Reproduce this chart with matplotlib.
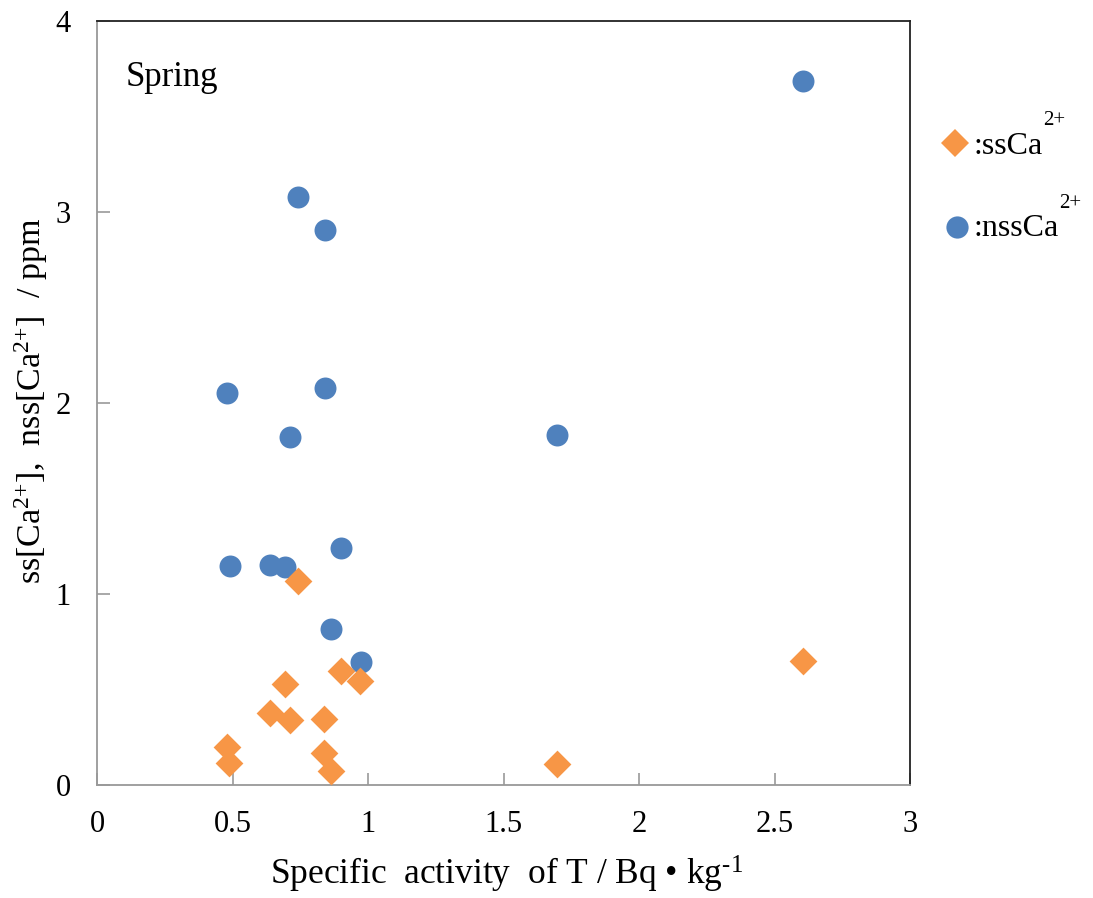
import matplotlib
matplotlib.use("Agg")
import matplotlib.pyplot as plt
from matplotlib.lines import Line2D

plt.rcParams['font.family'] = ['Liberation Serif', 'DejaVu Serif']
plt.rcParams['mathtext.fontset'] = 'custom'
plt.rcParams['mathtext.rm'] = 'Liberation Serif'
plt.rcParams['mathtext.it'] = 'Liberation Serif:italic'

# Data
ss_x = [0.742, 2.605, 0.900, 0.970, 0.694, 0.638, 0.712, 0.838, 0.480, 0.487, 0.838, 0.863, 1.697]
ss_y = [1.067, 0.648, 0.596, 0.544, 0.528, 0.376, 0.340, 0.345, 0.200, 0.115, 0.168, 0.075, 0.110]
nss_x = [2.605, 0.742, 0.841, 0.480, 0.841, 0.712, 1.697, 0.491, 0.638, 0.694, 0.900, 0.863, 0.974]
nss_y = [3.686, 3.080, 2.907, 2.050, 2.076, 1.820, 1.830, 1.145, 1.150, 1.140, 1.239, 0.816, 0.643]
x_ticks = [0, 0.5, 1, 1.5, 2, 2.5, 3]
x_tick_labels = ['0', '0.5', '1', '1.5', '2', '2.5', '3']
y_ticks = [0, 1, 2, 3, 4]
y_tick_labels = ['0', '1', '2', '3', '4']

ORANGE = '#F79646'
BLUE = '#4F81BD'

W, H = 1093, 898
fig = plt.figure(figsize=(W / 100, H / 100), dpi=100)
left, right, top, bottom = 97, 910, 21, 785
ax = fig.add_axes([left / W, 1 - bottom / H, (right - left) / W, (bottom - top) / H])

ax.scatter(nss_x, nss_y, s=250, marker='o', color=BLUE, linewidths=0, zorder=3)
ax.scatter(ss_x, ss_y, s=200, marker='D', color=ORANGE, linewidths=0, zorder=3)

ax.set_xlim(0, 3)
ax.set_ylim(0, 4)
ax.set_xticks(x_ticks)
ax.set_xticklabels(x_tick_labels)
ax.set_yticks(y_ticks)
ax.set_yticklabels(y_tick_labels)
ax.tick_params(direction='in', length=9, width=1.2, color='#999999', labelsize=22)
ax.tick_params(axis='x', pad=18)
ax.tick_params(axis='y', pad=19)

for s in ['bottom', 'left']:
    ax.spines[s].set_color('#999999')
    ax.spines[s].set_linewidth(1.3)
for s in ['top', 'right']:
    ax.spines[s].set_color('#222222')
    ax.spines[s].set_linewidth(1.3)

ax.text(126 / W, 1 - 77 / H, 'Spring', transform=fig.transFigure, fontsize=25,
        va='center', ha='left')

fig.text(507 / W, 1 - 885 / H, r'Specific  activity  of T / Bq • kg$^{\text{-}1}$',
         fontsize=25.5, ha='center', va='baseline')
fig.text(31 / W, 1 - 401 / H,
         r'ss[Ca$^{\text{2+}}$],  nss[Ca$^{\text{2+}}$]  / ppm',
         fontsize=24.5, rotation=90, ha='center', va='center')

# Legend (manual)
fig.add_artist(Line2D([955 / W], [1 - 143 / H], marker='D', markersize=14,
                      color=ORANGE, markeredgewidth=0, linestyle='none'))
fig.text(973 / W, 1 - 147 / H, ':ssCa', fontsize=23, ha='left', va='center')
fig.text(1043 / W, 1 - 120 / H, '2+', fontsize=15, ha='left', va='center')
fig.add_artist(Line2D([957 / W], [1 - 227 / H], marker='o', markersize=16,
                      color=BLUE, markeredgewidth=0, linestyle='none'))
fig.text(973 / W, 1 - 229 / H, ':nssCa', fontsize=23, ha='left', va='center')
fig.text(1059 / W, 1 - 204 / H, '2+', fontsize=15, ha='left', va='center')

fig.savefig('out.png', dpi=100)
